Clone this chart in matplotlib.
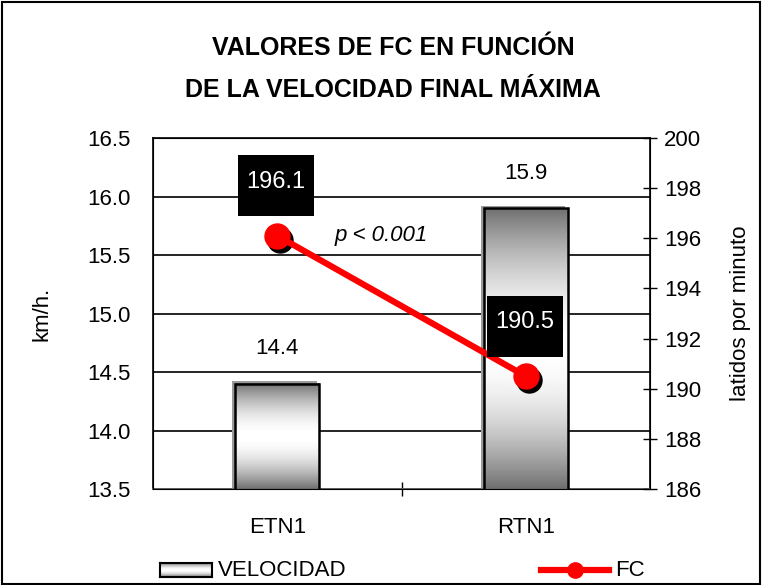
import numpy as np
import matplotlib
matplotlib.use("Agg")
import matplotlib.pyplot as plt
from matplotlib.patches import Rectangle
from matplotlib.lines import Line2D
import matplotlib.transforms as mtransforms

plt.rcParams['font.family'] = ['Liberation Sans', 'DejaVu Sans']

# data
categories = ["ETN1", "RTN1"]
velocidad = [14.4, 15.9]
fc = [196.1, 190.5]
left_ticks = [13.5, 14.0, 14.5, 15.0, 15.5, 16.0, 16.5]
right_ticks = [186, 188, 190, 192, 194, 196, 198, 200]

FS = 16

fig = plt.figure(figsize=(7.62, 5.85), dpi=100)
ax = fig.add_axes([153/762, 1-489/585, 497/762, 351/585])

x = np.arange(len(categories)) + 0.5
bars = ax.bar(x, velocidad, width=0.34, bottom=0, color='none',
              edgecolor='black', linewidth=1.8, zorder=3)

# vertical gradient inside the bars: dark at top and bottom, white in the middle
t = np.linspace(0, 1, 256)
shade = 0.43 + 0.57 * np.sin(np.pi * t) ** 0.9
grad = np.repeat(shade[:, None], 2, axis=1)
for b in bars:
    x0, w, h = b.get_x(), b.get_width(), b.get_height()
    ax.imshow(grad, cmap='gray', vmin=0, vmax=1, aspect='auto',
              extent=[x0, x0 + w, 13.5, h], zorder=2, interpolation='bilinear')
    # soft shadow
    ax.add_patch(Rectangle((x0 - 0.012, 13.5), w, h - 13.5 + 0.02,
                           facecolor='#9a9a9a', edgecolor='none', zorder=1.5))
ax.set_aspect('auto')
ax.set_xlim(0, 2)
ax.set_ylim(13.5, 16.5)

for xi, v in zip(x, velocidad):
    ax.annotate(f"{v:.1f}", (xi, v), xytext=(0, 25), textcoords='offset points',
                ha='center', va='center', fontsize=FS)

ax.set_yticks(left_ticks)
ax.set_yticklabels([f"{v:.1f}" for v in left_ticks], fontsize=FS)
ax.yaxis.grid(True, color='black', linewidth=1.2, zorder=0)
ax.set_axisbelow(True)
ax.set_xticks([1])
ax.set_xticklabels([])
ax.set_xticks(x, minor=True)
ax.set_xticklabels(categories, minor=True, fontsize=FS)
ax.tick_params(axis='x', which='major', direction='inout', length=10, width=1)
ax.tick_params(axis='x', which='minor', length=0, pad=20)
ax.tick_params(axis='y', length=0, pad=16)
ax.set_ylabel("km/h.", fontsize=FS, labelpad=25)
for s in ax.spines.values():
    s.set_linewidth(1.2)
ax.spines['bottom'].set_color('#707070')

ax2 = ax.twinx()
ax2.set_ylim(186, 200)
ax2.set_yticks(right_ticks)
ax2.set_yticklabels([str(v) for v in right_ticks], fontsize=FS)
ax2.tick_params(axis='y', direction='inout', length=10, width=1, pad=5)
ax2.set_ylabel("latidos por minuto", fontsize=FS, labelpad=21)

shadow = mtransforms.offset_copy(ax2.transData, fig=fig, x=3, y=-4, units='dots')
ax2.plot(x, fc, 'o', color='black', markersize=18, transform=shadow, zorder=4)
ax2.plot(x, fc, '-o', color='#ff0000', linewidth=4.5, markersize=18, zorder=5)

# black label boxes above the FC points (sizes in inches, anchored at each point)
for xi, v in zip(x, fc):
    anchor = fig.dpi_scale_trans + mtransforms.ScaledTranslation(xi, v, ax2.transData)
    ax2.add_patch(Rectangle((-0.39, 0.195), 0.76, 0.61, transform=anchor,
                            facecolor='black', edgecolor='none', zorder=6))
    ax2.annotate(f"{v:.1f}", (xi, v), xytext=(-1, 39), textcoords='offset points',
                 ha='center', va='center', fontsize=FS + 1, color='white', zorder=7)

ax2.text(0.918, 196.1, "p < 0.001", transform=ax2.transData, fontsize=FS,
         style='italic', ha='center', va='center')

fig.text(393/762, 1 - 48/585, "VALORES DE FC EN FUNCIÓN", ha='center', va='center',
         fontsize=FS + 2, fontweight='bold')
fig.text(393/762, 1 - 90/585, "DE LA VELOCIDAD FINAL MÁXIMA", ha='center', va='center',
         fontsize=FS + 2, fontweight='bold')

# legend
lax = fig.add_axes([160/762, 1 - 577/585, 52/762, 14/585])
lax.imshow(grad, cmap='gray', vmin=0, vmax=1, aspect='auto', interpolation='bilinear')
lax.set_xticks([]); lax.set_yticks([])
for s in lax.spines.values():
    s.set_linewidth(1.5)
fig.text(218/762, 1 - 570/585, "VELOCIDAD", ha='left', va='center', fontsize=FS)
fig.add_artist(Line2D([541/762, 609/762], [1 - 570/585, 1 - 570/585],
                      color='#ff0000', linewidth=4.5))
fig.add_artist(Line2D([575/762], [1 - 570/585], color='#ff0000', marker='o',
                      markersize=11, linestyle='none'))
fig.text(615/762, 1 - 570/585, "FC", ha='left', va='center', fontsize=FS)

fig.add_artist(Rectangle((0.002, 0.002), 0.995, 0.995, transform=fig.transFigure,
                         fill=False, edgecolor='black', linewidth=1.5))

fig.savefig("out.png", dpi=100)
